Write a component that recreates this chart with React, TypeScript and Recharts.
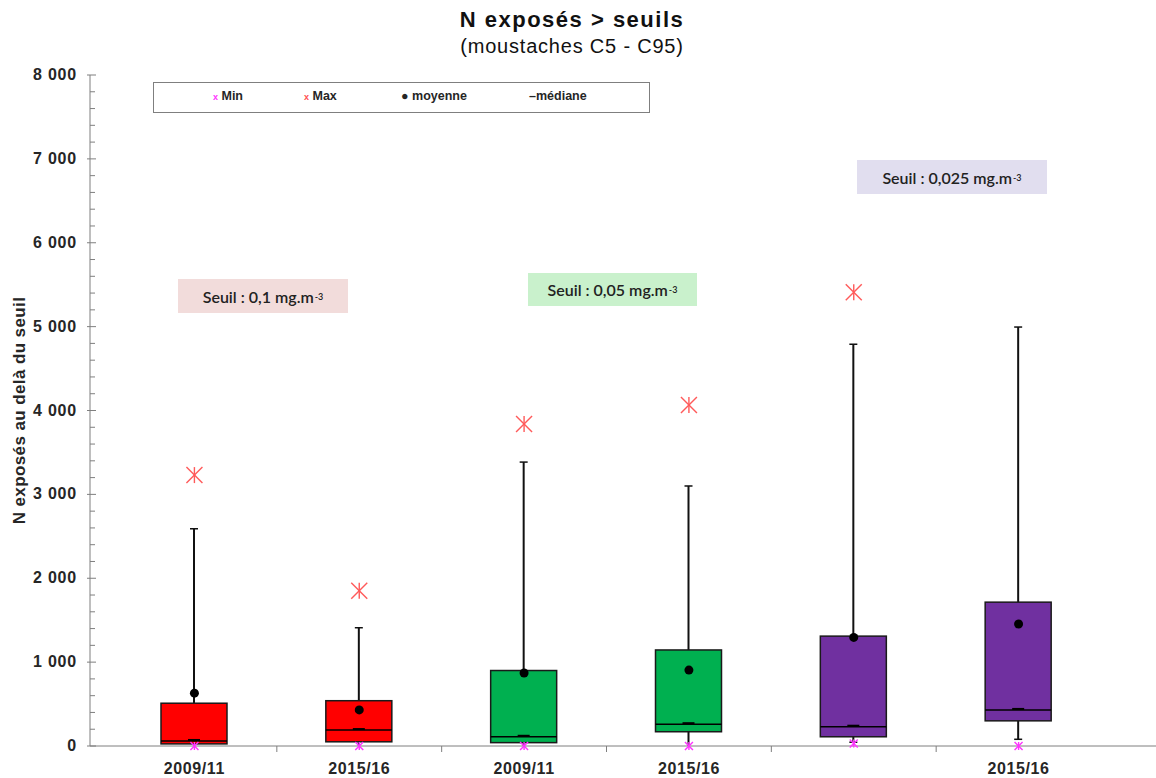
import { ComposedChart, Bar, Scatter, XAxis, YAxis } from "recharts";

const groupKeys = ["g1", "g2", "g3", "g4", "g5", "g6"];
const groupLabels = ["2009/11", "2015/16", "2009/11", "2015/16", "", "2015/16"];
const boxColors = ["#FF0000", "#FF0000", "#00B050", "#00B050", "#7030A0", "#7030A0"];

// whiskers C5 - C95, box Q1 - Q3
const c5 = [0, 0, 0, 0, 45, 80];
const q1 = [25, 50, 40, 170, 110, 300];
const median = [60, 190, 110, 260, 230, 430];
const q3 = [510, 540, 900, 1145, 1310, 1715];
const c95 = [2590, 1410, 3385, 3100, 4790, 4995];
const mean = [630, 430, 870, 905, 1295, 1455];
const maxV = [3230, 1850, 3840, 4065, 5410, 6700];
const minV = [0, 0, 0, 0, 30, 0];

const allTicks = Array.from({ length: 41 }, (_, i) => i * 200);

const data = groupKeys.map((key, i) => ({
  key,
  label: groupLabels[i],
  color: boxColors[i],
  c5: c5[i],
  q1: q1[i],
  median: median[i],
  q3: q3[i],
  c95: c95[i],
  mean: mean[i],
  max: maxV[i],
  min: minV[i],
}));

const FONT = "'Liberation Sans', Arial, sans-serif";
const NOTE_FONT = "Lato, 'Open Sans', sans-serif";

function BoxShape(props: any) {
  const { x, y, width, height, payload } = props;
  if (!payload || !height) return null;
  const base = y + height; // value 0
  const k = height / payload.c95;
  const py = (v: number) => base - v * k;
  const cx = x + width / 2;
  const yTop = py(payload.q3);
  const yBot = py(payload.q1);
  const yMed = py(payload.median);
  return (
    <g>
      <line x1={cx} x2={cx} y1={py(payload.c95)} y2={yTop} stroke="#111" strokeWidth={2} />
      <line x1={cx - 4} x2={cx + 4} y1={py(payload.c95)} y2={py(payload.c95)} stroke="#111" strokeWidth={1.5} />
      {payload.c5 > 0 ? (
        <>
          <line x1={cx} x2={cx} y1={yBot} y2={py(payload.c5)} stroke="#111" strokeWidth={2} />
          <line x1={cx - 4} x2={cx + 4} y1={py(payload.c5)} y2={py(payload.c5)} stroke="#111" strokeWidth={1.5} />
        </>
      ) : (
        <line x1={cx} x2={cx} y1={yBot} y2={base} stroke="#111" strokeWidth={2} />
      )}
      <rect
        x={x}
        y={yTop}
        width={width}
        height={Math.max(yBot - yTop, 1)}
        fill={payload.color}
        stroke="#1a1a1a"
        strokeWidth={1.5}
      />
      <line x1={x} x2={x + width} y1={yMed} y2={yMed} stroke="#000" strokeWidth={1.5} />
      <rect x={cx - 6} y={yMed - 2} width={12} height={2} fill="#000" />
    </g>
  );
}

function Asterisk({ cx, cy, r, color, sw }: any) {
  if (cx == null || cy == null) return null;
  return (
    <g stroke={color} strokeWidth={sw}>
      <line x1={cx} x2={cx} y1={cy - r} y2={cy + r} />
      <line x1={cx - r} x2={cx + r} y1={cy - r} y2={cy + r} />
      <line x1={cx - r} x2={cx + r} y1={cy + r} y2={cy - r} />
    </g>
  );
}

function XTick(props: any) {
  const { x, y, payload, index } = props;
  const half = payload && payload.offset ? payload.offset : 82.4;
  const label = groupLabels[index] ?? "";
  return (
    <g>
      {index < groupKeys.length - 1 && (
        <line x1={x + half} x2={x + half} y1={y - 8} y2={y - 2} stroke="#7f7f7f" strokeWidth={1} />
      )}
      <text
        x={x}
        y={y + 20}
        textAnchor="middle"
        fontFamily={FONT}
        fontWeight="bold"
        fontSize={16}
        letterSpacing={0.6}
        fill="#262626"
      >
        {label}
      </text>
    </g>
  );
}

function YTick(props: any) {
  const { x, y, payload } = props;
  const v = payload.value as number;
  const major = v % 1000 === 0;
  const ax = x + 8; // axis line position
  return (
    <g>
      {major ? (
        <line x1={ax - 3} x2={ax + 6} y1={y} y2={y} stroke="#7f7f7f" />
      ) : (
        <line x1={ax} x2={ax + 5} y1={y} y2={y} stroke="#7f7f7f" />
      )}
      {major && (
        <text
          x={ax - 13}
          y={y + 5}
          textAnchor="end"
          fontFamily={FONT}
          fontWeight="bold"
          fontSize={16}
          letterSpacing={0.8}
          fill="#262626"
        >
          {v === 0 ? "0" : `${v / 1000} 000`}
        </text>
      )}
    </g>
  );
}

function Note({ left, top, width, height, bg, text }: any) {
  return (
    <div
      style={{
        position: "absolute",
        left,
        top,
        width,
        height,
        background: bg,
        display: "flex",
        alignItems: "center",
        justifyContent: "center",
        fontFamily: NOTE_FONT,
        fontWeight: 600,
        fontSize: 16,
        color: "#222",
      }}
    >
      {text}
      <sup style={{ fontSize: 9, marginLeft: 1 }}>-3</sup>
    </div>
  );
}

export default function App() {
  return (
    <div style={{ position: "absolute", left: 0, top: 0, width: 1156, height: 778, background: "#fff" }}>
      <div
        style={{
          position: "absolute",
          left: 0,
          top: 6,
          width: 1144,
          textAlign: "center",
          fontFamily: FONT,
          color: "#111",
        }}
      >
        <div style={{ fontWeight: "bold", fontSize: 22, letterSpacing: 1.5, lineHeight: "27px" }}>
          N exposés &gt; seuils
        </div>
        <div style={{ fontSize: 20, letterSpacing: 0.8, lineHeight: "27px" }}>(moustaches C5 - C95)</div>
      </div>

      <ComposedChart
        width={1156}
        height={778}
        data={data}
        margin={{ top: 75, right: 0, bottom: 0, left: 0 }}
      >
        <XAxis
          dataKey="key"
          height={32}
          padding={{ left: 22, right: 55 }}
          axisLine={{ stroke: "#7f7f7f" }}
          tickLine={false}
          tick={<XTick />}
          interval={0}
        />
        <YAxis
          width={90}
          domain={[0, 8000]}
          ticks={allTicks}
          interval={0}
          axisLine={{ stroke: "#7f7f7f" }}
          tickLine={false}
          tick={<YTick />}
          label={{
            value: "N exposés au delà du seuil",
            angle: -90,
            position: "insideLeft",
            offset: 0,
            dx: 19,
            style: {
              fontFamily: FONT,
              fontWeight: "bold",
              fontSize: 17,
              letterSpacing: 0.4,
              fill: "#262626",
              textAnchor: "middle",
            },
          }}
        />
        <Bar dataKey="c95" barSize={66} shape={<BoxShape />} isAnimationActive={false} />
        <Scatter
          dataKey="max"
          isAnimationActive={false}
          shape={(p: any) => <Asterisk cx={p.cx} cy={p.cy} r={8} color="#FF5a5a" sw={1.4} />}
        />
        <Scatter
          dataKey="min"
          isAnimationActive={false}
          shape={(p: any) => <Asterisk cx={p.cx} cy={p.cy} r={4} color="#FF33FF" sw={1.4} />}
        />
        <Scatter
          dataKey="mean"
          isAnimationActive={false}
          shape={(p: any) => <circle cx={p.cx} cy={p.cy} r={4.5} fill="#000" />}
        />
      </ComposedChart>

      {/* legend */}
      <div
        style={{
          position: "absolute",
          left: 153,
          top: 82,
          width: 495,
          height: 29,
          border: "1.5px solid #7f7f7f",
          fontFamily: FONT,
          fontWeight: "bold",
          fontSize: 12.5,
          color: "#262626",
        }}
      >
        <span style={{ position: "absolute", left: 59, top: 6 }}>
          <span style={{ color: "#FF33FF", fontSize: 9 }}>x</span> Min
        </span>
        <span style={{ position: "absolute", left: 150, top: 6 }}>
          <span style={{ color: "#FF5050", fontSize: 9 }}>x</span> Max
        </span>
        <span style={{ position: "absolute", left: 247, top: 6 }}>● moyenne</span>
        <span style={{ position: "absolute", left: 375, top: 6 }}>–médiane</span>
      </div>

      <Note left={178} top={279} width={170} height={34} bg="#F2DCDB" text="Seuil : 0,1 mg.m" />
      <Note left={528} top={273} width={169} height={33} bg="#C9F1CC" text="Seuil : 0,05 mg.m" />
      <Note left={857} top={160} width={190} height={34} bg="#E1DEEF" text="Seuil : 0,025 mg.m" />
    </div>
  );
}
